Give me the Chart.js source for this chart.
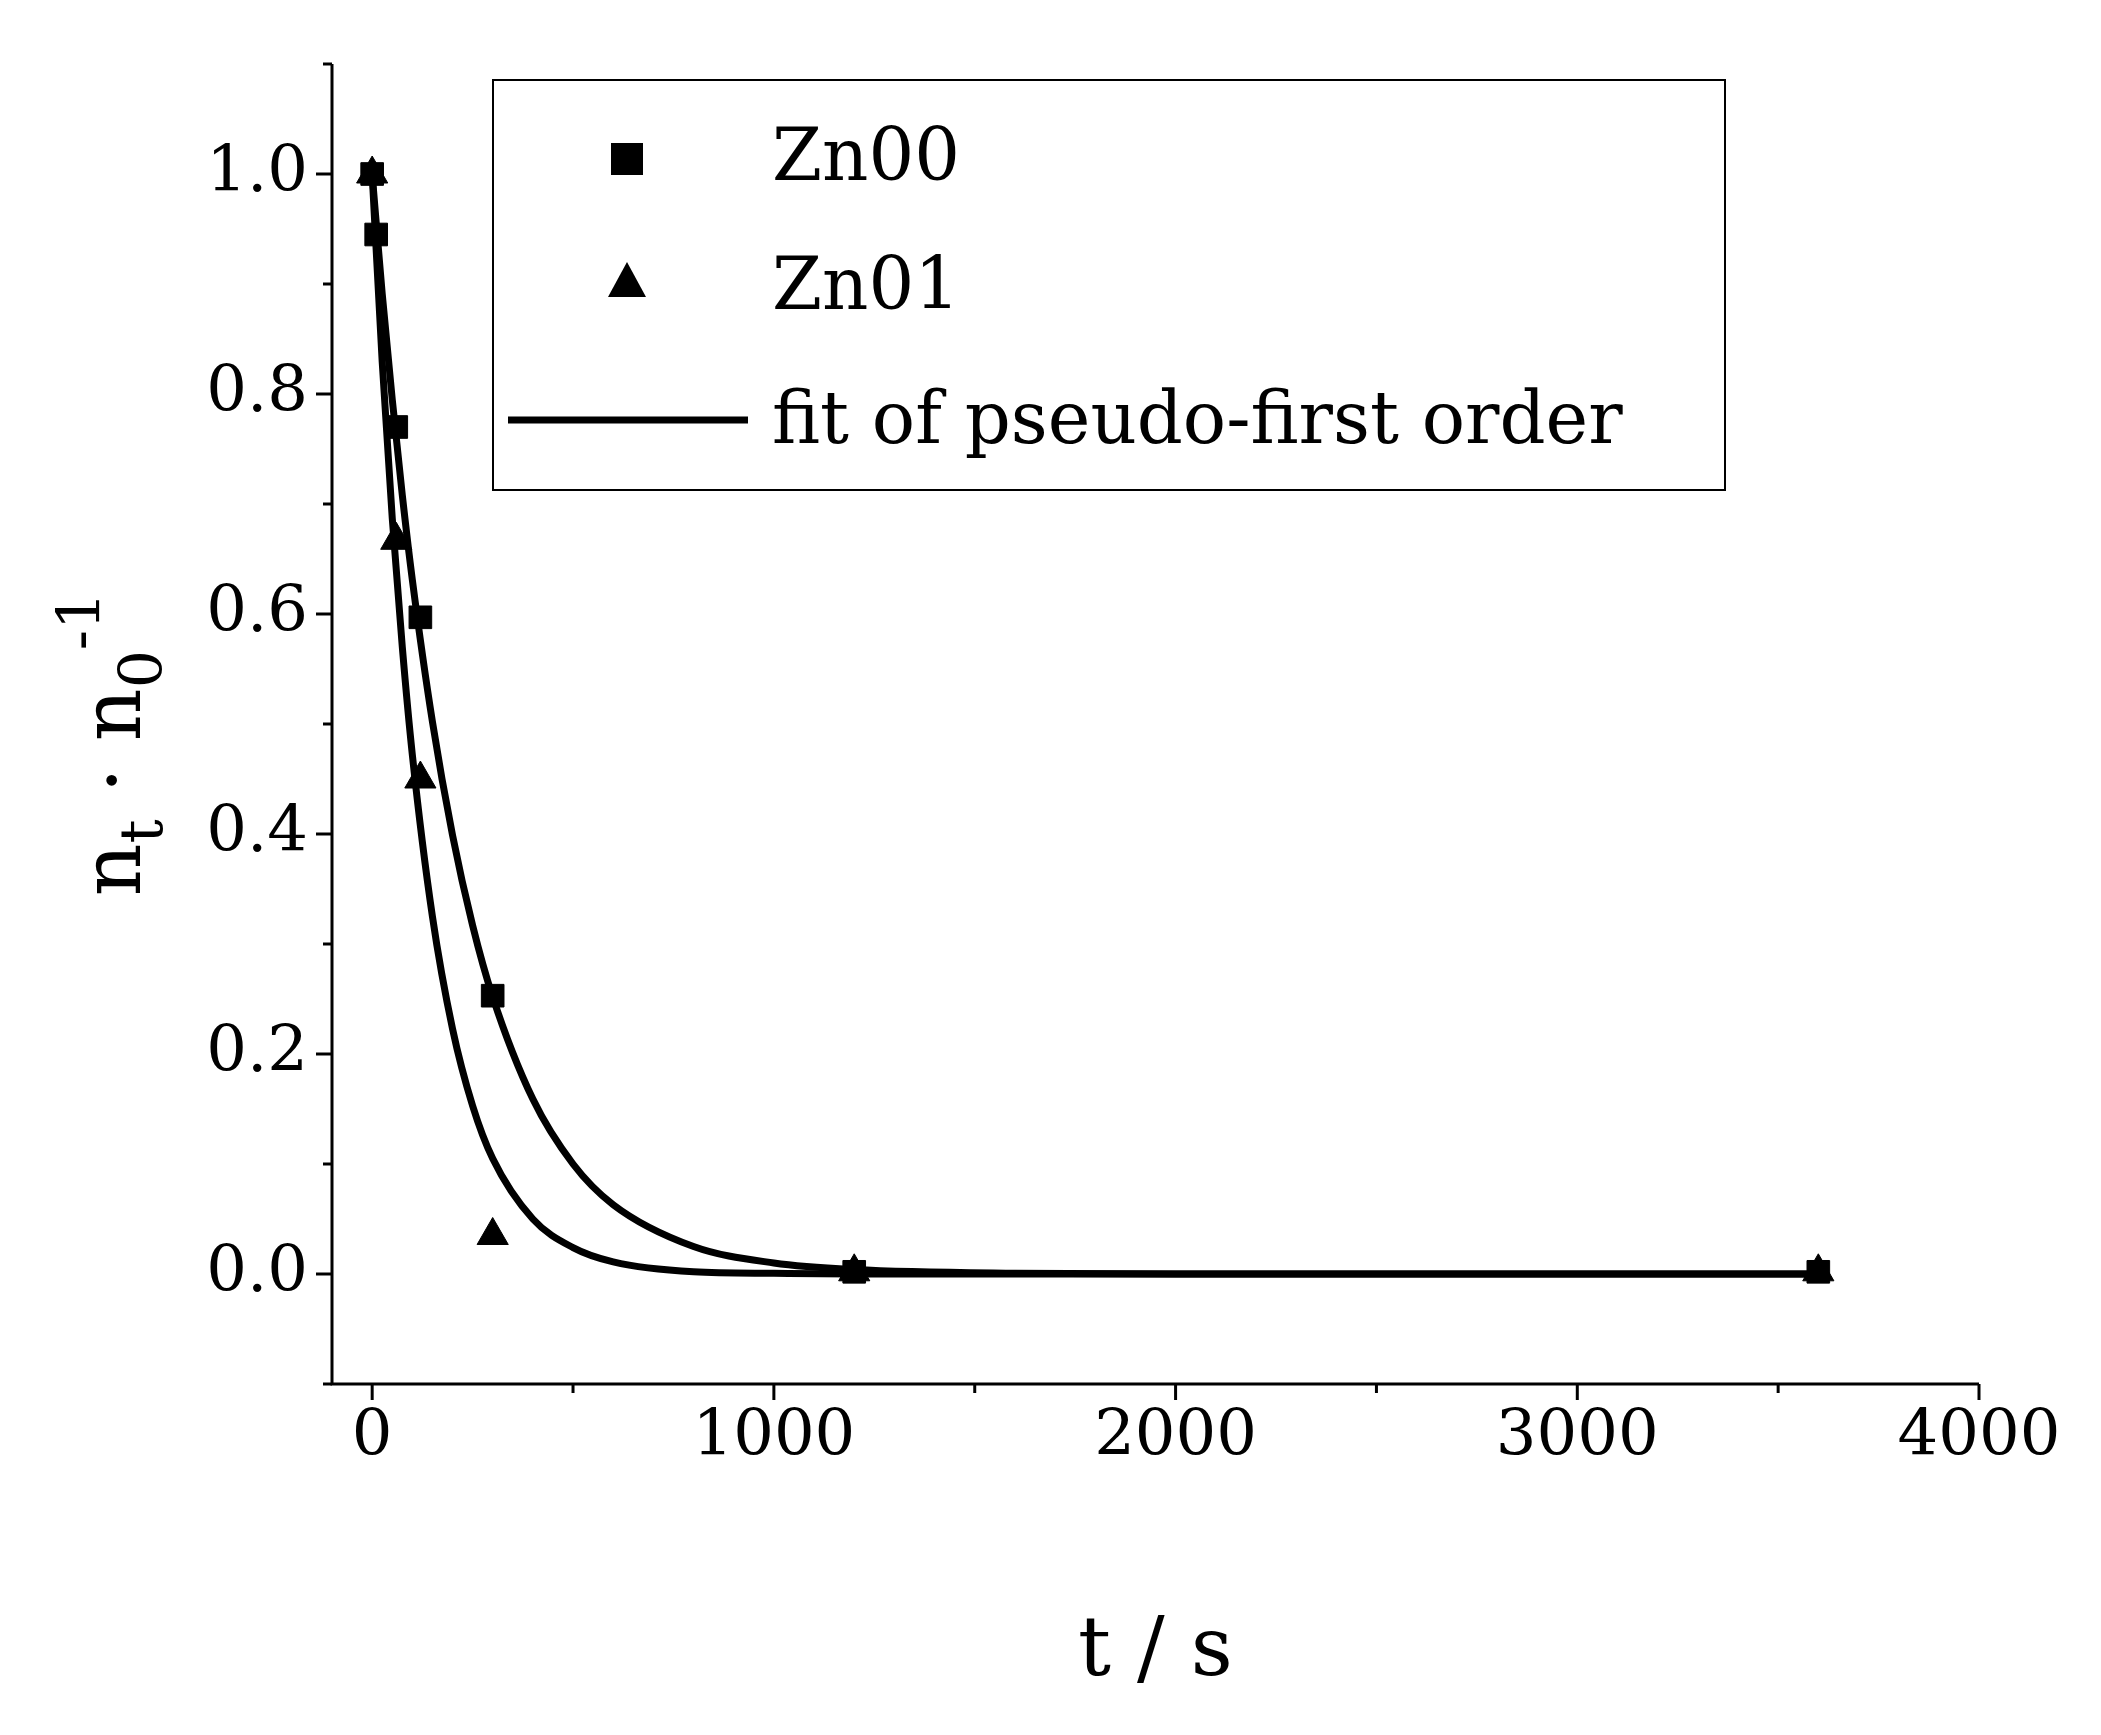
<!DOCTYPE html>
<html><head><meta charset="utf-8">
<script src="https://cdn.jsdelivr.net/npm/chart.js@4"></script>
<style>html,body{margin:0;padding:0;background:#fff}</style>
</head><body>
<canvas id="c" width="2101" height="1735" style="width:2101px;height:1735px"></canvas>
<script>
const zn00T = [0, 10, 60, 120, 300, 1200, 3600];
const zn00Y = [1.0, 0.945, 0.77, 0.597, 0.253, 0.002, 0.002];
const zn01T = [0, 60, 120, 300, 1200, 3600];
const zn01Y = [1.0, 0.667, 0.45, 0.035, 0.002, 0.002];
const fitT = [0, 25, 50, 75, 100, 150, 200, 250, 300, 400, 500, 600, 800, 1000, 1200, 1600, 2000, 3600];
const fit00 = [1, 0.891, 0.795, 0.708, 0.631, 0.502, 0.399, 0.317, 0.252, 0.159, 0.100, 0.063, 0.025, 0.010, 0.004, 0.0006, 0, 0];
const fit01 = [1, 0.829, 0.687, 0.570, 0.472, 0.325, 0.223, 0.153, 0.105, 0.050, 0.024, 0.011, 0.002, 0.0006, 0, 0, 0, 0];
const xTicks = [0, 1000, 2000, 3000, 4000];
const yTicks = ['0.0', '0.2', '0.4', '0.6', '0.8', '1.0'];
const pts = (t, y) => t.map((v, i) => ({x: v, y: y[i]}));
const F = 'DejaVu Serif';
const axes = {
  id: 'axes',
  afterDraw(ch) {
    const c = ch.ctx, a = ch.chartArea, xs = ch.scales.x, ys = ch.scales.y;
    c.save(); c.strokeStyle = '#000'; c.fillStyle = '#000'; c.lineWidth = 3;
    c.beginPath(); c.moveTo(a.left, a.top); c.lineTo(a.left, a.bottom); c.lineTo(a.right, a.bottom); c.stroke();
    c.font = '64px "' + F + '"';
    c.textAlign = 'center'; c.textBaseline = 'top';
    for (let v = 0; v <= 4000; v += 500) {
      const px = xs.getPixelForValue(v), maj = v % 1000 === 0;
      c.beginPath(); c.moveTo(px, a.bottom); c.lineTo(px, a.bottom + (maj ? 16 : 9)); c.stroke();
    }
    xTicks.forEach(v => c.fillText(String(v), xs.getPixelForValue(v), a.bottom + 22));
    c.textAlign = 'right'; c.textBaseline = 'middle';
    for (let k = -1; k <= 11; k++) {
      const py = ys.getPixelForValue(k / 10), maj = k % 2 === 0;
      c.beginPath(); c.moveTo(a.left, py); c.lineTo(a.left - (maj ? 16 : 9), py); c.stroke();
    }
    yTicks.forEach(s => c.fillText(s, a.left - 24, ys.getPixelForValue(parseFloat(s))));
    c.font = '82px "' + F + '"'; c.textAlign = 'center'; c.textBaseline = 'alphabetic';
    c.fillText('t / s', (a.left + a.right) / 2 + 0, 1675);
    // y title
    c.save(); c.translate(140, 744); c.rotate(-Math.PI / 2); c.textAlign = 'left';
    const parts = [['n', 82, 0], ['t', 60, 22], [' · n', 82, 0], ['0', 60, 22], ['-1', 60, -40]];
    let w = 0; parts.forEach(p => { c.font = p[1] + 'px "' + F + '"'; w += c.measureText(p[0]).width; });
    let x = -w / 2;
    parts.forEach(p => { c.font = p[1] + 'px "' + F + '"'; c.fillText(p[0], x, p[2]); x += c.measureText(p[0]).width; });
    c.restore();
    // legend
    c.lineWidth = 2; c.strokeRect(493, 80, 1232, 410);
    c.font = '72px "' + F + '"'; c.textAlign = 'left'; c.textBaseline = 'middle';
    c.fillRect(611, 143, 32, 32); c.fillText('Zn00', 772, 161);
    c.beginPath(); c.moveTo(627, 262); c.lineTo(646, 297); c.lineTo(608, 297); c.closePath(); c.fill();
    c.fillText('Zn01', 772, 290);
    c.lineWidth = 7; c.beginPath(); c.moveTo(508, 420); c.lineTo(748, 420); c.stroke();
    c.fillText('fit of pseudo-first order', 772, 424);
    c.restore();
  }
};
new Chart(document.getElementById('c'), {
  type: 'scatter',
  data: { datasets: [
    {data: pts(fitT, fit00), showLine: true, borderColor: '#000', borderWidth: 7, pointRadius: 0, cubicInterpolationMode: 'monotone'},
    {data: pts(fitT, fit01), showLine: true, borderColor: '#000', borderWidth: 7, pointRadius: 0, cubicInterpolationMode: 'monotone'},
    {data: pts(zn00T, zn00Y), pointStyle: 'rect', pointRadius: 16, backgroundColor: '#000', borderColor: '#000'},
    {data: pts(zn01T, zn01Y), pointStyle: 'triangle', pointRadius: 18, backgroundColor: '#000', borderColor: '#000'}
  ]},
  options: {
    responsive: false, animation: false, devicePixelRatio: 1,
    layout: {padding: {left: 332, right: 122, top: 64, bottom: 351}},
    plugins: {legend: {display: false}, tooltip: {enabled: false}},
    scales: {
      x: {display: false, min: -100, max: 4000},
      y: {display: false, min: -0.1, max: 1.1}
    }
  },
  plugins: [axes]
});
</script>
</body></html>
